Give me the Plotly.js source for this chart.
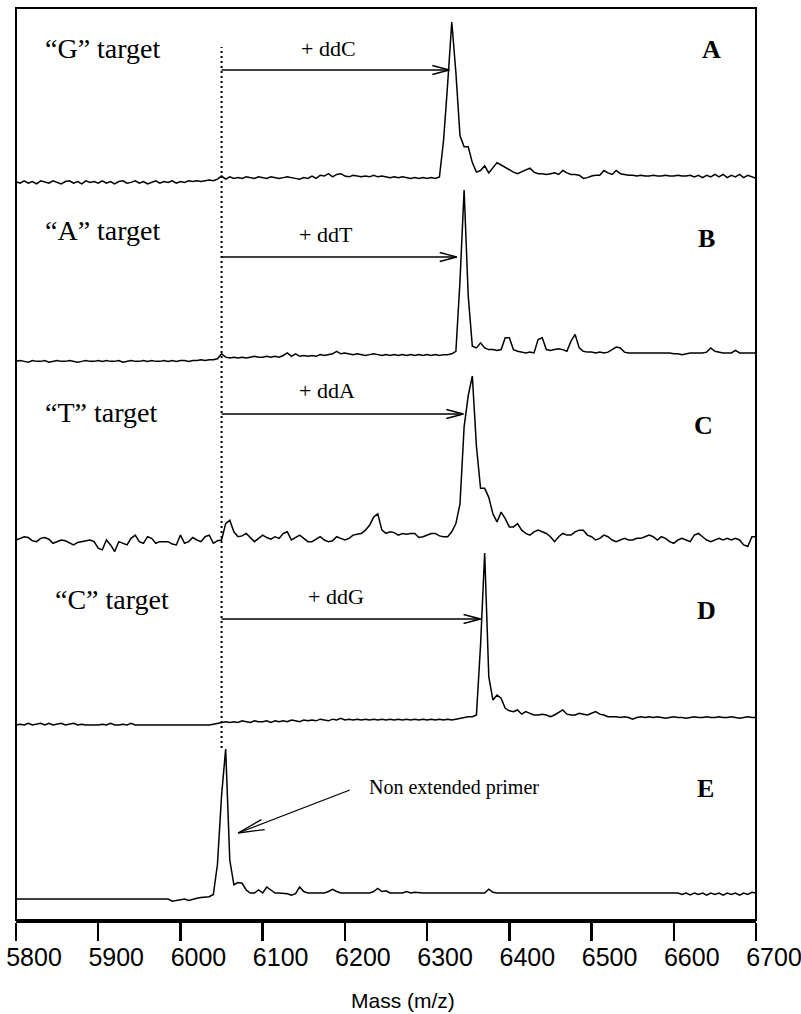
<!DOCTYPE html>
<html><head><meta charset="utf-8">
<script src="https://cdn.plot.ly/plotly-3.0.1.min.js"></script>
<style>html,body{margin:0;padding:0;background:#fff}#chart{width:801px;height:1014px}</style>
</head><body><div id="chart"></div>
<script>
// ---------------- data ----------------
const massStart = 5800;      // first sample (m/z)
const massStep = 5;          // sample spacing (m/z)
const panelLetters = ['A', 'B', 'C', 'D', 'E'];
const targetLabels = ['“G” target', '“A” target', '“T” target', '“C” target'];
const additionLabels = ['+ ddC', '+ ddT', '+ ddA', '+ ddG'];
const extensionPeakMass = [6327, 6336, 6344, 6365];   // where the arrows end
const primerMass = 6050;                              // non extended primer
const primerLabel = 'Non extended primer';
const primerArrowHead = 6070;
const primerArrowTail = 6206;
const xTickValues = [5800, 5900, 6000, 6100, 6200, 6300, 6400, 6500, 6600, 6700];
const xAxisTitle = 'Mass (m/z)';

// relative intensity (peak = 100), one value every 5 m/z from 5800 to 6700
const intensityA = [
 -1,-2,-0.5,-2,-1,-2.5,-0.5,-1.5,-2,-0.5,
 -1.5,-2.5,-1,-0.5,-2,-1,-2.5,-0.5,-1.5,-1,
 -2,-0.5,-2,-1,-2.5,-1,-0.5,-2,-1.5,-0.5,
 -2,-1,-2.5,-1.5,-0.5,-2,-1,-1.5,-0.5,-2,
 -1,-1.5,-0.5,-1,-0.5,-1,-0.5,0,-0.5,0.5,
 2.5,0.5,2,1,1.5,1,2,1.5,1,2,
 1.5,1,2,1.5,1,1.5,2,1.5,1,0.5,
 1.5,1,2.5,1,3,2.5,4,2,3.5,4,
 2.5,2,3,2.5,2,2.5,2,3,2,2.5,
 2,1.5,2,1.5,2,1.5,1,1.5,1,1.5,
 1,1.5,1,2,25,61,100,68,28,21,
 21,11,5,6,9,4.5,8,11,9.5,8,
 6,5,4,5,6,7.5,5,4,4,3.5,
 4,4.5,3.5,6,4.5,3.5,3.5,3,1,1.5,
 2.5,3,3,6,4.5,3.5,6,4,3.5,3,
 3,2.5,3,2.5,2.5,3,2.5,2.5,3,2.5,
 2.5,3,2.5,2.5,3,2,3,1.5,3,2,
 3.5,2,3.5,1.5,3,2,3.5,1.5,3,2,
 1];
const intensityB = [
 -2,-1.5,-2,-2.5,-1.5,-2,-2,-1.5,-2.5,-2,
 -1.5,-2,-2,-1.5,-2,-2.5,-2,-1.5,-2,-2,
 -1.5,-2,-1.5,-2,-2,-1.5,-2.5,-2,-1.5,-2,
 -2,-1.5,-2,-1.5,-2,-2,-1.5,-2,-1.5,-2,
 -1.5,-1.5,-2,-1.5,-1.5,-1,-1.5,-1,-1,-0.5,
 2.5,0.5,0,0.5,0,0.5,0,0.5,1,0.5,
 0.5,1,0.5,1,0.5,1.5,3,1,2.5,1,
 1.5,1,1.5,1,2,1.5,2,2.5,4,2.5,
 3,2.5,2,2.5,2,1.5,2,2.5,2,1.5,
 2,1.5,2,1.5,2,1.5,2,1.5,2,1.5,
 2,1.5,2,1.5,2,2,2.5,4,46,100,
 37,7,6,9,6,5,5,4.5,5,12,
 12,5,4,3.5,3,3.5,3,11,12,5,
 4.5,5,5.5,5,4,10,14,6,4,3.5,
 3.5,3,3.5,3,3.5,5,6.5,6,3.5,3,
 3,3,3,3,3,3,3,3,3,3,
 2.5,2.5,2,2.5,3,3,3,3,3.5,6,
 4,3.5,3,3,3,4.5,3,3,3,3,
 3];
const intensityC = [
 0,1,2,1.5,-0.5,-1,1,1.5,0.5,-2,
 -1,0,-0.5,-2,-3,-1.5,-1,-0.5,0,-1,
 -5,-6,0,-3,-7,-1,-2,-3,1,3,
 -1,-2,2,1,-2,-1,-1,-1,-2.5,-3,
 3,-2,-1,1.5,0,-1,2,3,-2,-0.5,
 0,10,12,5,2,2.5,4,1.5,-1,1,
 3,1.5,0.5,2,1,4,5,0,1.5,3,
 1,-1,-1,0.5,2,0,-1,-0.5,2,1,
 0,1,3,3.5,4,6,9,14,16,6,
 4,5,4.5,3,4,3.5,4,4,1.5,2,
 3,4,4,2.5,2,2,5,10,22,69,
 88,100,57,31.5,31.5,26,16,11,17,13,
 8,8,10,6,4,3,5,6,5,4,
 2,-1,2,4,3,3,5,6,6,3,
 2,0,1,3,2,0,-1,0,1,0,
 0,1,1,2,3,2,0,2,1,-1,
 -2,0,1,0,-1,3,4,2,0,-1,
 0,1,0,1,0,1,0,-3,-4,2,
 2];
const intensityD = [
 -3,-2.5,-3,-2,-3,-2.5,-2,-3,-2,-3,
 -2.5,-2,-3,-2.5,-2,-3,-2.5,-3,-3,-3,
 -3,-2.5,-3,-2,-3,-3,-2.5,-3,-2,-3,
 -3,-3,-3,-3,-3,-3,-3,-3,-3,-3,
 -3,-3,-3,-3,-3,-3,-3,-3,-2.5,-2,
 -1.5,-1,-1.5,-1,-1.5,-0.5,-1,-1.5,-0.5,-1,
 -1,-0.5,-1.5,-0.5,-1,-0.5,-1,0,-0.5,-1,
 0,-0.5,0,-0.5,0.5,0,-0.5,0.5,0,1,
 0,0.5,0,0.5,0,0.5,0,0.5,0,0.5,
 0,0.5,0,0.5,0,0.5,0,0.5,0,0.5,
 0,0.5,0,0.5,0,0.5,0,0.5,1,1.5,
 2,2,3,45,100,26,12,15,13,7,
 5.5,5,6,3.5,5,4,3,3,3.5,3,
 2,3,4.5,6,3.5,3,3,4,3.5,3,
 4,5,3.5,3,2,2,2,1.5,2,1.5,
 0.5,1.5,2,1.5,2,1.5,2,1.5,1,1.5,
 2,1.5,1.5,1,1.5,2,1.5,1.5,2,1.5,
 1.5,2,1.5,1.5,2,1.5,1,1.5,2,1.5,
 1.5];
const intensityE = [
 0,0,0,0,0,0,0,0,0,0,
 0,0,0,0,0,0,0,0,0,0,
 0,0,0,0,0,0,0,0,0,0,
 0,0,0,0,0,0,0,0,-1.5,-1,
 0,0,-1,0,0.5,1,1.5,1.5,3,23,
 69,100,26,9.5,11,10.5,6,4,4,6,
 4,8,6,4,4,4,3.5,2.5,3.5,8,
 5,4,4,4,4,4,5,6.5,5,4,
 4,4,4,3.5,3.5,3.5,4,5,7,5,
 5.5,4,4,4,4,5,4,4.5,4,4,
 4,4,4,4,3.5,4,4,4,4,4,
 4,4,4,4,4,6.5,4.5,4,4,4,
 4,4,4,4,4,4,4,4,4,4,
 4,4,4,4,4,4,4,4,4,4,
 4,4,4,4,4,4,4,4,4,4,
 4,4,4,4,4,4,4,4,4,4,
 4,4,3,4,2.7,4,3,4,2.5,4,
 3,4,2.5,4,3,4,2.5,4,3,4.5,
 4];
const intensities = [intensityA, intensityB, intensityC, intensityD, intensityE];

// ---------------- layout geometry (pixels) ----------------
const W = 801, H = 1014, L = 16, R = 45, T = 8, B = 94;
const plotW = W - L - R, plotH = H - T - B;
const px2x = px => (px - L) / plotW;
const py2y = py => (H - B - py) / plotH;
// baseline pixel and peak-top pixel of each panel
const panelBase = [180, 358, 540, 720, 899];
const panelPeak = [22, 190, 376, 553, 749];

const serif = '"Liberation Serif", "Times New Roman", Times, serif';
const sans = '"Liberation Sans", Arial, Helvetica, sans-serif';

const traces = intensities.map((ys, k) => ({
  type: 'scatter', mode: 'lines',
  name: 'Panel ' + panelLetters[k],
  x0: massStart, dx: massStep, y: ys,
  yaxis: k === 0 ? 'y' : 'y' + (k + 1),
  line: { color: '#000', width: 1.5 },
  hoverinfo: 'skip', showlegend: false
}));

const layout = {
  width: W, height: H,
  margin: { l: L, r: R, t: T, b: B, pad: 0 },
  paper_bgcolor: '#fff', plot_bgcolor: '#fff',
  showlegend: false,
  font: { family: serif, color: '#000' },
  xaxis: {
    range: [5800, 6700], tickvals: xTickValues, ticktext: xTickValues.map(String),
    ticks: 'outside', ticklen: 18, tickwidth: 2.5, tickcolor: '#000',
    showline: true, linewidth: 2.5, linecolor: '#000',
    showgrid: false, zeroline: false, fixedrange: true,
    tickfont: { family: sans, size: 25, color: '#000' },
    ticklabelshift: 18, ticklabelstandoff: -5, ticklabeloverflow: 'allow',
    anchor: 'y'
  },
  shapes: [], annotations: []
};

panelBase.forEach((base, k) => {
  const s = (base - panelPeak[k]) / 100;       // px per intensity unit
  const ax = {
    domain: [0, 1], visible: false, fixedrange: true,
    range: [-(H - B - base) / s, (base - T) / s]
  };
  if (k > 0) ax.overlaying = 'y';
  layout[k === 0 ? 'yaxis' : 'yaxis' + (k + 1)] = ax;
});

// frame
layout.shapes.push({ type: 'rect', xref: 'paper', yref: 'paper', x0: 0, x1: 1, y0: 0, y1: 1,
  line: { color: '#000', width: 2 }, layer: 'above' });
// dotted primer line
layout.shapes.push({ type: 'line', xref: 'x', yref: 'paper', x0: primerMass, x1: primerMass,
  y0: py2y(748), y1: py2y(47), line: { color: '#000', width: 2, dash: '2px,3px' } });

function barbs(xMass, yPaper, pts) {
  pts.forEach(p => layout.shapes.push({
    type: 'line', xref: 'x', yref: 'paper',
    xsizemode: 'pixel', ysizemode: 'pixel', xanchor: xMass, yanchor: yPaper,
    x0: 0, y0: 0, x1: p[0], y1: p[1], line: { color: '#000', width: 1.3 }
  }));
}

const arrowY = [70, 257, 414, 619];
const targetPos = [[103, 48], [103, 230], [101, 413], [112, 599]];
const additionPos = [[328, 48], [326, 234], [327, 391], [336, 596]];
const letterPos = [[711, 50], [706, 239], [703, 425], [706, 610], [705, 788]];

extensionPeakMass.forEach((m, k) => {
  const y = py2y(arrowY[k]);
  layout.shapes.push({ type: 'line', xref: 'x', yref: 'paper', x0: primerMass, x1: m, y0: y, y1: y,
    line: { color: '#000', width: 1.3 } });
  barbs(m, y, [[-17, 4.5], [-17, -4.5]]);
  layout.annotations.push({ xref: 'paper', yref: 'paper', x: px2x(targetPos[k][0]), y: py2y(targetPos[k][1]),
    text: targetLabels[k], showarrow: false, xanchor: 'center', yanchor: 'middle',
    font: { family: serif, size: 28, color: '#000' } });
  layout.annotations.push({ xref: 'paper', yref: 'paper', x: px2x(additionPos[k][0]), y: py2y(additionPos[k][1]),
    text: additionLabels[k], showarrow: false, xanchor: 'center', yanchor: 'middle',
    font: { family: serif, size: 22, color: '#000' } });
});

panelLetters.forEach((t, k) => {
  layout.annotations.push({ xref: 'paper', yref: 'paper', x: px2x(letterPos[k][0]), y: py2y(letterPos[k][1]),
    text: '<b>' + t + '</b>', showarrow: false, xanchor: 'center', yanchor: 'middle',
    font: { family: serif, size: 26, color: '#000' } });
});

// primer arrow (E)
layout.shapes.push({ type: 'line', xref: 'x', yref: 'paper', x0: primerArrowTail, y0: py2y(790),
  x1: primerArrowHead, y1: py2y(833), line: { color: '#000', width: 1.3 } });
barbs(primerArrowHead, py2y(833), [[23.4, 13.4], [26.7, 3.4]]);
layout.annotations.push({ xref: 'paper', yref: 'paper', x: px2x(454), y: py2y(787),
  text: primerLabel, showarrow: false, xanchor: 'center', yanchor: 'middle',
  font: { family: serif, size: 20, color: '#000' } });

// axis title
layout.annotations.push({ xref: 'paper', yref: 'paper', x: px2x(403), y: py2y(1000),
  text: xAxisTitle, showarrow: false, xanchor: 'center', yanchor: 'middle',
  font: { family: sans, size: 21, color: '#000' } });

Plotly.newPlot('chart', traces, layout, { displayModeBar: false, staticPlot: true });
</script>
</body></html>
